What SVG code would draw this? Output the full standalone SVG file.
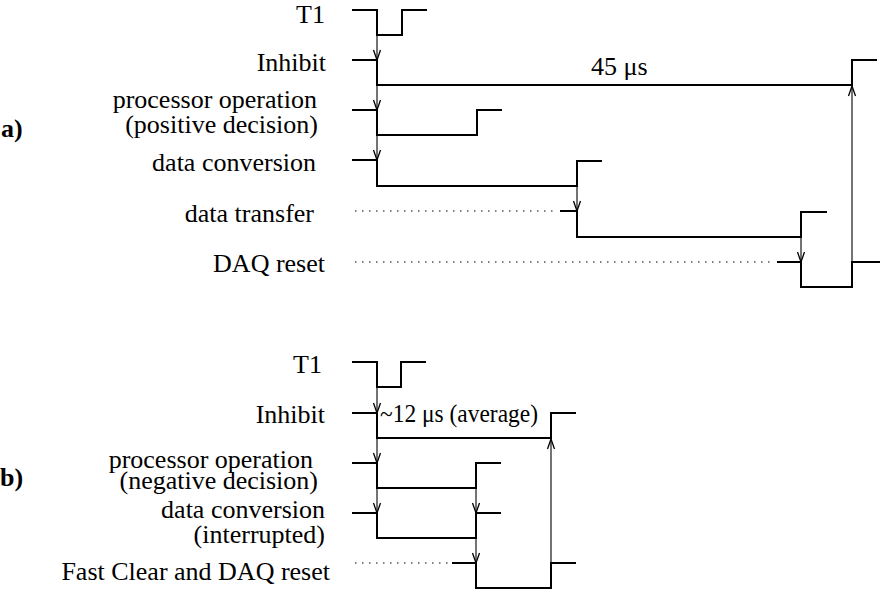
<svg xmlns="http://www.w3.org/2000/svg" width="888" height="592" viewBox="0 0 888 592">
<style>
text{font-family:"Liberation Serif","Times New Roman",serif;font-size:26px;fill:#000}
.lbl{text-anchor:end}
.part{font-weight:bold}
.sig{fill:none;stroke:#000;stroke-width:2;stroke-linejoin:miter}
.dot{fill:none;stroke:#000;stroke-width:1.2;stroke-dasharray:1.5 5.5}
.arr{fill:none;stroke:#000;stroke-width:1.1;marker-end:url(#ah)}
</style>
<defs>
<marker id="ah" markerWidth="12" markerHeight="10" refX="11" refY="5" orient="auto" markerUnits="userSpaceOnUse">
<path d="M1,1.5 L11,5 L1,8.5" fill="none" stroke="#000" stroke-width="1.3"/>
</marker>
</defs>
<rect width="888" height="592" fill="#fff"/>

<text class="part" x="1" y="137">a)</text>
<text class="part" x="0" y="486">b)</text>

<!-- part a -->
<g id="a-t1"><text class="lbl" x="325" y="23" font-size="25">T1</text><path class="sig" d="M352,10 H377 V35 H402 V10 H427"/></g>
<g id="a-inhibit"><text class="lbl" x="326" y="71">Inhibit</text><path class="sig" d="M352,60 H377 V85 H852 V60 H877"/><text x="591" y="75">45 μs</text></g>
<g id="a-processor"><text class="lbl" x="317" y="108">processor operation</text><text class="lbl" x="318" y="133">(positive decision)</text><path class="sig" d="M352,110 H377 V135 H477 V110 H502"/></g>
<g id="a-conversion"><text class="lbl" x="316" y="171">data conversion</text><path class="sig" d="M352,160 H377 V186 H577 V161 H602"/></g>
<g id="a-transfer"><text class="lbl" x="314" y="222">data transfer</text><path class="dot" d="M355,211 H558"/><path class="sig" d="M560,211 H577 V237 H801 V212 H827"/></g>
<g id="a-reset"><text class="lbl" x="325" y="272">DAQ reset</text><path class="dot" d="M355,262 H775"/><path class="sig" d="M777,262 H801 V287 H852 V262 H880"/></g>

<!-- part b -->
<g id="b-t1"><text class="lbl" x="322" y="373">T1</text><path class="sig" d="M352,362 H377 V387 H401 V362 H426"/></g>
<g id="b-inhibit"><text class="lbl" x="325" y="423">Inhibit</text><path class="sig" d="M352,413 H377 V438 H551 V413 H576"/><text x="380" y="422" textLength="158" lengthAdjust="spacingAndGlyphs">~12 μs (average)</text></g>
<g id="b-processor"><text class="lbl" x="313" y="468">processor operation</text><text class="lbl" x="318" y="489">(negative decision)</text><path class="sig" d="M352,463 H377 V488 H476 V463 H501"/></g>
<g id="b-conversion"><text class="lbl" x="325" y="518">data conversion</text><text class="lbl" x="325" y="543">(interrupted)</text><path class="sig" d="M352,513 H377 V538 H476 V513 H501"/></g>
<g id="b-fastclear"><text class="lbl" x="330" y="580">Fast Clear and DAQ reset</text><path class="dot" d="M355,563 H450"/><path class="sig" d="M452,563 H476 V588 H551 V563 H576"/></g>

<g id="connectors">
<path class="arr" d="M377,36 V60"/>
<path class="arr" d="M377,86 V110"/>
<path class="arr" d="M377,136 V160"/>
<path class="arr" d="M577,187 V211"/>
<path class="arr" d="M801,238 V262"/>
<path class="arr" d="M852,262 V86"/>
<path class="arr" d="M377,388 V413"/>
<path class="arr" d="M377,439 V463"/>
<path class="arr" d="M377,489 V513"/>
<path class="arr" d="M476,489 V513"/>
<path class="arr" d="M476,539 V563"/>
<path class="arr" d="M551,563 V439"/>
</g>
</svg>
